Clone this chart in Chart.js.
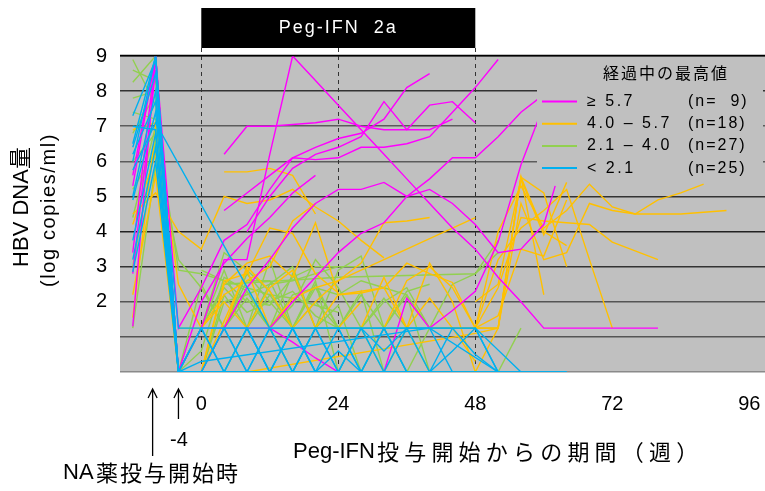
<!DOCTYPE html>
<html>
<head>
<meta charset="utf-8">
<script src="https://cdn.jsdelivr.net/npm/chart.js@4"></script>
<style>
  html, body { margin: 0; padding: 0; background: #fff; }
  #wrap { width: 765px; height: 491px; }
</style>
</head>
<body>
<div id="wrap"><canvas id="hbv" width="765" height="491"></canvas></div>
<script>
// HBV DNA (log copies/ml) per patient, [week, value]; week 0 = Peg-IFN start
const xTicks = [0, 24, 48, 72, 96];
const yTicks = [2, 3, 4, 5, 6, 7, 8, 9];
const groupLabels = ['≥ 5.7', '4.0 – 5.7', '2.1 – 4.0', '< 2.1'];
const groupCounts = ['(n=  9)', '(n=18)', '(n=27)', '(n=25)'];

// peak >= 5.7
const high = [
  [[-12,5.3],[-8,9.0],[-4,0],[0,1.25],[4,3.2],[8,3.2],[12,6.2],[16,9.0],[20,8.3],[24,7.6],[28,6.9],[32,6.2],[36,5.5],[40,4.8],[44,4.1],[48,3.5],[52,2.7],[56,2.0],[60,1.25],[64,1.25],[68,1.25],[72,1.25],[76,1.25],[80,1.25]],
  [[4,6.2],[8,7.0],[12,7.0],[16,7.05],[20,7.1],[24,7.2],[28,7.0],[32,6.9],[36,6.9],[40,6.9],[44,7.2]],
  [[-12,3.4],[-8,9.0],[-4,1.25],[0,2.4],[4,3.75],[8,4.2],[12,5.2],[16,6.1],[20,6.4],[24,6.65],[28,6.8],[32,7.2],[36,8.1],[40,8.5]],
  [[4,4.6],[8,5.1],[12,5.6],[16,6.1],[20,6.05],[24,6.1],[28,6.4],[32,6.4],[36,6.5],[40,6.7],[44,7.4],[48,8.1],[52,8.9]],
  [[8,4.0],[12,5.0],[16,5.8],[20,6.2],[24,6.4],[28,6.7],[32,7.7],[36,6.9],[40,7.6],[44,7.7],[48,7.1]],
  [[-12,2.8],[-8,8.6],[-4,0],[0,0],[4,1.25],[8,2.4],[12,3.2],[16,4.1],[20,4.8],[24,5.2],[28,5.2],[32,5.4],[36,5.0],[40,5.2],[44,4.8],[48,4.2],[52,3.4],[56,3.5],[60,4.2],[62,5.3]],
  [[12,1.25],[16,2.0],[20,2.7],[24,3.4],[28,3.95],[32,4.25],[36,5.0],[40,5.5],[44,6.1],[48,6.1],[52,6.7],[56,7.4],[60,7.9]],
  [[-12,1.3],[-8,9.0],[-4,0],[0,1.25],[4,1.25],[8,1.25],[12,1.25],[16,0.85],[20,0.4],[24,0],[28,0],[32,0],[36,2.1],[40,1.25],[44,1.75],[48,2.3],[52,3.7],[56,5.9],[60,7.6]],
  [[-12,5.6],[-8,9.0],[-4,0],[0,2.0],[4,3.1],[8,3.8],[12,4.4],[16,5.1],[20,5.6]]
];

// peak 4.0 - 5.7
const mid = [
  [[-12,4.5],[-8,5.1],[-4,4.0],[0,3.5],[4,5.0],[8,4.8],[12,4.9],[16,5.2],[20,4.7],[24,4.3],[28,3.75],[32,3.25]],
  [[4,5.7],[8,5.7],[12,5.8],[16,5.6],[20,4.5]],
  [[-12,1.55],[-8,6.9],[-4,0],[0,0],[4,2.6],[8,2.8],[12,4.1],[16,3.95],[20,2.8],[24,2.25]],
  [[-12,6.9],[-8,7.1],[-4,2.5],[0,1.25],[4,2.2],[8,2.6],[12,3.0],[16,4.3],[20,4.8]],
  [[0,0],[4,1.25],[8,3.0],[12,2.3],[16,1.25],[20,2.0],[24,2.6],[28,3.1],[32,4.25],[36,4.3],[40,4.4]],
  [[12,1.25],[16,2.1],[20,2.4],[24,2.6],[48,4.4]],
  [[20,1.25],[24,2.2],[28,2.3],[32,2.4],[36,3.1],[40,2.8],[44,2.55],[48,1.25],[52,1.25],[56,5.55],[60,5.1],[64,3.0]],
  [[8,0],[48,1.1],[52,1.25],[56,5.55],[60,2.2]],
  [[28,1.25],[32,2.7],[36,1.25],[40,3.1],[44,2.0],[48,0],[52,1.25],[56,5.55],[60,4.0],[64,3.6]],
  [[40,1.25],[44,1.25],[48,1.25],[52,2.4],[56,4.4],[60,4.3],[64,4.25],[68,4.2],[72,3.7],[76,3.45],[80,3.2]],
  [[44,1.25],[48,1.25],[52,3.2],[56,4.1],[60,4.6],[64,5.2],[68,3.2],[72,1.25]],
  [[48,1.25],[52,4.0],[56,5.3],[60,4.1],[64,4.6],[68,5.35],[72,4.7],[76,4.5],[80,4.5],[84,4.5],[88,4.55],[92,4.6]],
  [[48,1.25],[52,1.25],[56,4.8],[60,3.2],[64,3.4],[68,4.8],[72,4.6],[76,4.5],[80,4.9],[84,5.1],[88,5.35]],
  [[48,2.0],[52,2.5],[56,5.5],[60,3.9],[64,5.4]],
  [[32,1.25],[36,2.6],[40,3.0],[44,2.4],[48,1.25],[52,1.6],[56,3.5],[60,3.3],[64,4.9]],
  [[0,0],[4,2.5],[8,3.1],[12,3.3],[16,2.7],[20,4.25],[24,2.2],[28,2.25],[32,2.4],[36,1.25],[40,2.1],[44,1.25],[48,0.3]],
  [[-12,4.2],[-8,6.2],[-4,0],[0,1.25],[4,2.0],[8,1.25],[12,2.4],[16,2.9],[20,1.25],[24,1.25],[28,2.0]],
  [[-12,2.2],[-8,5.6],[-4,0],[0,0],[8,2.9],[12,1.25],[16,0],[20,1.25]]
];

// peak 2.1 - 4.0
const low = [
  [[-12,8.9],[-8,7.6],[-4,0],[0,1.25],[4,2.9],[8,1.25],[12,3.2],[16,1.25],[20,2.5],[24,1.25]],
  [[-12,8.25],[-8,9.0],[-4,0],[0,2.5],[4,1.25],[8,2.8],[12,2.0],[16,1.25],[20,1.25],[24,2.9],[28,3.3],[32,1.25],[36,0]],
  [[-12,7.4],[-8,7.2],[-4,2.9],[0,2.8],[4,2.6],[8,2.0],[12,1.9],[16,2.7],[20,3.0],[24,3.0],[28,3.0]],
  [[-12,6.0],[-8,6.8],[-4,0],[0,1.25],[4,2.5],[24,2.7],[48,2.8],[52,3.75]],
  [[-12,5.2],[-8,6.3],[-4,3.2],[0,2.4],[4,1.25],[8,2.3],[12,1.25],[16,2.2],[20,2.4],[24,2.2],[28,2.6],[32,2.4],[36,2.2],[40,1.25]],
  [[-12,1.25],[-8,5.9],[-4,0],[0,0],[4,2.2],[8,1.25],[12,2.5],[16,3.0],[20,1.25],[24,1.25],[28,2.3],[32,0],[36,0],[40,1.25],[44,2.5],[48,2.8],[52,3.4]],
  [[-4,0],[0,0],[4,1.25],[8,2.6],[12,2.6],[16,1.25],[20,2.6],[24,0],[28,1.25],[32,2.1],[36,1.25],[40,0],[44,0],[48,0],[52,0],[56,1.25]],
  [[-12,7.8],[-8,8.0],[-4,0],[0,1.25],[4,3.4],[8,2.9],[12,2.3],[16,1.25],[20,2.4],[24,1.25],[28,2.2],[32,1.25],[36,2.3],[40,2.5]],
  [[-4,1.25],[0,1.25],[4,2.4],[8,1.7],[12,2.0],[16,2.3],[20,1.6],[24,1.25],[28,1.25],[32,1.25],[36,1.25],[40,1.25],[44,1.25],[48,1.25],[52,1.25]],
  [[-12,3.0],[-8,6.6],[-4,0],[0,0.6],[4,2.7],[8,2.3],[12,1.25],[16,2.8],[20,1.25],[24,1.9],[28,0],[32,1.25],[36,2.2],[40,0]],
  [[-12,8.6],[-8,8.3],[-4,0],[0,0],[4,2.0],[8,2.2],[12,2.5],[16,2.6],[20,2.8],[24,3.0]],
  [[-12,4.4],[-8,7.0],[-4,0],[0,1.25],[4,1.25],[8,2.1],[12,1.25],[16,1.9],[20,3.2],[24,2.4],[28,1.25],[32,2.0],[36,2.4],[40,1.25],[44,1.25]],
  [[0,2.9],[4,2.6],[8,2.4],[12,2.2],[16,2.1],[20,1.9],[24,1.7]],
  [[-12,6.8],[-8,7.9],[-4,0],[0,0],[4,0],[8,1.25],[12,2.2],[16,1.25],[20,2.0],[24,1.25],[28,1.25],[32,0],[36,1.25]]
];

// peak < 2.1
const vlow = [
  [[-12,2.85],[-8,6.0],[-4,0],[64,0]],
  [[-12,6.5],[-8,9.0],[-4,0],[0,1.25],[4,0],[8,1.25],[12,0],[16,1.25],[20,0],[24,0],[28,1.25],[32,0],[36,0],[40,0]],
  [[-12,7.3],[-8,8.9],[-4,0],[0,0],[4,1.25],[8,0],[12,1.25],[16,0],[20,1.25],[24,1.25],[28,0],[32,1.25],[36,1.25],[40,1.25],[44,0]],
  [[-12,6.2],[-8,7.7],[-4,1.25],[48,1.25],[52,0]],
  [[-12,5.75],[-8,7.1],[12,1.25],[16,0],[20,1.25],[24,0]],
  [[-12,3.75],[-8,6.8],[-4,0],[0,0.3],[40,1.25],[52,0]],
  [[-12,6.4],[-8,8.5],[-4,0],[0,1.25],[4,1.25],[8,0],[12,0],[16,0],[20,1.25],[24,1.25],[28,1.25],[32,0.6],[36,1.25],[40,1.25],[44,1.25],[48,0.5],[52,0]],
  [[-12,4.9],[-8,7.4],[-4,0],[4,0],[8,1.25],[12,0],[16,0],[20,0],[24,0.6],[28,0],[32,0],[36,0],[40,0],[44,1.25],[48,1.25],[56,0]],
  [[-12,6.0],[-8,9.0],[-4,0],[0,0],[4,0],[8,0],[12,0],[16,0],[20,0],[24,0],[28,0],[32,0],[36,1.25],[40,0],[44,0.6],[48,1.25],[52,0]],
  [[-12,3.2],[-8,6.4],[-4,0],[0,1.25],[4,0],[8,0],[12,1.25],[16,1.25],[20,0],[24,1.25],[28,0]],
  [[-12,7.0],[-8,6.9],[-4,0],[0,0],[4,1.25],[8,1.25],[12,0],[16,1.25],[20,1.25],[24,0],[28,1.25],[32,1.25],[36,0]],
  [[-12,5.0],[-8,8.0],[-4,0],[8,0],[12,0],[16,1.25],[20,0],[24,0],[28,0],[32,1.25],[36,0],[40,0],[44,0],[48,0],[52,0],[56,0],[60,0],[64,0]]
];

const groupColors = ['#ff00ff', '#ffc000', '#92d050', '#00b0f0'];

function toPoints(series) {
  return series.map(p => ({ x: p[0], y: p[1] }));
}

// cyan on top, then magenta, yellow, green (dataset 0 is drawn last)
const datasets = [];
[[vlow, 3], [high, 0], [mid, 1], [low, 2]].forEach(([group, ci]) => {
  group.forEach(series => {
    datasets.push({
      data: toPoints(series),
      borderColor: groupColors[ci],
      borderWidth: 1.4,
      pointRadius: 0,
      tension: 0,
      fill: false
    });
  });
});

const FONT = "'Liberation Sans', Arial, 'Noto Sans CJK JP', sans-serif";
const JFONT = "'Noto Sans CJK JP', 'Liberation Sans', sans-serif";

function text(ctx, str, x, y, size, opts = {}) {
  ctx.save();
  ctx.font = size + 'px ' + (opts.family || FONT);
  ctx.fillStyle = opts.color || '#000';
  ctx.textAlign = opts.align || 'left';
  ctx.textBaseline = 'middle';
  ctx.letterSpacing = (opts.spacing || 0) + 'px';
  ctx.fillText(str, x, y);
  ctx.restore();
}

function arrow(ctx, x, y0, y1) {
  ctx.beginPath();
  ctx.moveTo(x, y0);
  ctx.lineTo(x, y1);
  ctx.moveTo(x - 4.5, y1 + 9);
  ctx.lineTo(x, y1);
  ctx.lineTo(x + 4.5, y1 + 9);
  ctx.stroke();
}

const decor = {
  id: 'decor',
  beforeDraw(chart) {
    const { ctx, chartArea: a } = chart;
    ctx.save();
    ctx.fillStyle = '#fff';
    ctx.fillRect(0, 0, chart.width, chart.height);
    ctx.fillStyle = '#c0c0c0';
    ctx.fillRect(a.left, a.top, a.right - a.left, a.bottom - a.top);
    ctx.restore();
  },
  beforeDatasetsDraw(chart) {
    const { ctx, chartArea: a, scales: { x } } = chart;
    ctx.save();
    ctx.strokeStyle = '#333';
    ctx.lineWidth = 1;
    ctx.setLineDash([4, 4]);
    [0, 24, 48].forEach(w => {
      const px = Math.round(x.getPixelForValue(w)) + 0.5;
      ctx.beginPath();
      ctx.moveTo(px, 48);
      ctx.lineTo(px, a.bottom - 4);
      ctx.stroke();
    });
    ctx.restore();
  },
  afterDatasetsDraw(chart) {
    const ctx = chart.ctx;
    // legend panel
    ctx.save();
    ctx.fillStyle = '#c0c0c0';
    ctx.fillRect(537, 57, 226, 123);
    text(ctx, '経過中の最高値', 666, 73, 16, { family: JFONT, align: 'center', spacing: 2 });
    groupLabels.forEach((lab, i) => {
      const y = 101.5 + i * 22.2;
      ctx.strokeStyle = groupColors[i];
      ctx.lineWidth = 2;
      ctx.beginPath();
      ctx.moveTo(542, y);
      ctx.lineTo(577, y);
      ctx.stroke();
      text(ctx, lab, 587, y, 16, { spacing: 2.5 });
      text(ctx, groupCounts[i], 688, y, 16, { spacing: 2 });
    });
    ctx.restore();
  },
  afterDraw(chart) {
    const { ctx, chartArea: a, scales: { x } } = chart;
    ctx.save();
    // treatment period bar
    const x0 = x.getPixelForValue(0), x48 = x.getPixelForValue(48);
    ctx.fillStyle = '#000';
    ctx.fillRect(x0, 8, x48 - x0, 40);
    text(ctx, 'Peg-IFN  2a', (x0 + x48) / 2, 28, 18, { color: '#fff', align: 'center', spacing: 2 });

    // plot frame top
    ctx.strokeStyle = '#000';
    ctx.lineWidth = 1.5;
    ctx.beginPath();
    ctx.moveTo(a.left, a.top - 0.5);
    ctx.lineTo(a.right, a.top - 0.5);
    ctx.stroke();

    // y axis title
    ctx.save();
    ctx.translate(22, 207);
    ctx.rotate(-Math.PI / 2);
    text(ctx, 'HBV DNA量', 0, 0, 22, { align: 'center' });
    ctx.restore();
    ctx.save();
    ctx.translate(49, 210);
    ctx.rotate(-Math.PI / 2);
    text(ctx, '(log copies/ml)', 0, 0, 20, { align: 'center', spacing: 1.6 });
    ctx.restore();

    // x axis title
    text(ctx, 'Peg-IFN', 293, 452, 22);
    text(ctx, '投与開始からの期間（週）', 377, 452, 22, { family: JFONT, spacing: 5.2 });

    // NA start markers
    ctx.strokeStyle = '#000';
    ctx.lineWidth = 1.3;
    arrow(ctx, x.getPixelForValue(-8) - 3, 456, 389);
    arrow(ctx, x.getPixelForValue(-4), 419, 389);
    text(ctx, '-4', 179, 440, 20, { align: 'center' });
    text(ctx, 'NA', 63, 473, 22);
    text(ctx, '薬投与開始時', 96, 473, 22, { family: JFONT, spacing: 2 });
    ctx.restore();
  }
};

const gridColors = { 0: '#8a8a8a', 1: '#555', 2: '#555', 3: '#333', 4: '#222', 5: '#333', 6: '#5c5c5c', 7: '#5c5c5c', 8: '#333', 9: '#000' };

new Chart(document.getElementById('hbv'), {
  type: 'line',
  data: { datasets },
  options: {
    responsive: false,
    animation: false,
    devicePixelRatio: 1,
    layout: { padding: { top: 56, right: 0, left: 0, bottom: 0 } },
    plugins: { legend: { display: false }, tooltip: { enabled: false } },
    scales: {
      x: {
        type: 'linear',
        min: -14.24,
        max: 98.75,
        grid: { display: false, drawTicks: true, tickLength: 20 },
        border: { display: false },
        afterBuildTicks: s => { s.ticks = xTicks.map(v => ({ value: v })); },
        afterFit: s => { s.height = 119; },
        ticks: { color: '#000', padding: 0, font: { family: FONT, size: 20 } }
      },
      y: {
        min: 0,
        max: 9,
        afterBuildTicks: s => { s.ticks = [0, 1].concat(yTicks).map(v => ({ value: v })); },
        afterFit: s => { s.width = 120; },
        grid: {
          drawTicks: false,
          lineWidth: 1.5,
          color: c => gridColors[c.tick.value] || '#333'
        },
        border: { display: false },
        ticks: {
          color: '#000',
          padding: 13,
          font: { family: FONT, size: 20 },
          callback: v => (yTicks.includes(v) ? String(v) : '')
        }
      }
    }
  },
  plugins: [decor]
});
</script>
</body>
</html>
